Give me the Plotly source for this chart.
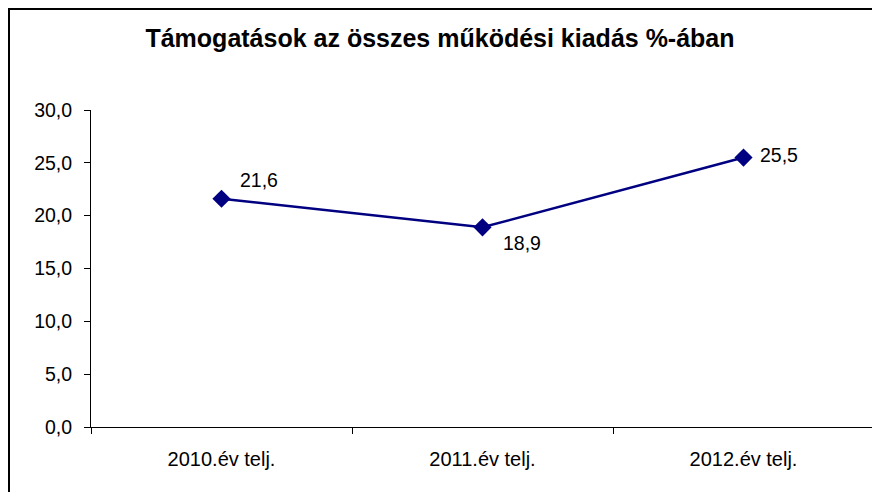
import plotly.graph_objects as go

categories = ["2010.év telj.", "2011.év telj.", "2012.év telj."]
values = [21.6, 18.9, 25.5]
title = "Támogatások az összes működési kiadás %-ában"
y_ticks = [0, 5, 10, 15, 20, 25, 30]

label_shifts = [(16, 19), (18, -16), (14, 3)]

W, H = 872, 484
L, R, T, B = 83, 6, 102, 65
PW, PH = W - L - R, H - T - B

fig = go.Figure()
fig.add_trace(go.Scatter(
    x=categories, y=values, mode="lines+markers",
    line=dict(color="#000080", width=2.5),
    marker=dict(symbol="diamond", size=14, color="#000080"),
    showlegend=False, cliponaxis=False,
))

for c, v, (dx, dy) in zip(categories, values, label_shifts):
    fig.add_annotation(x=c, y=v, text=f"{v:.1f}".replace(".", ","),
                       showarrow=False, xanchor="left", yanchor="middle",
                       xshift=dx, yshift=dy,
                       font=dict(family="Liberation Sans, Arial", size=19.5, color="#000"))

fig.add_shape(type="rect", xref="paper", yref="paper",
              x0=(1 - L) / PW, x1=1.5, y0=-1, y1=1 + (T - 1) / PH,
              line=dict(color="#000", width=2), fillcolor="rgba(0,0,0,0)", layer="below")

fig.update_layout(
    width=W, height=H,
    margin=dict(l=L, r=R, t=T, b=B),
    paper_bgcolor="white", plot_bgcolor="white",
    separators=", ",
    font=dict(family="Liberation Sans, Arial", size=19.5, color="#000"),
    title=dict(text="<b>" + title + "</b>", x=432 / W, xanchor="center",
               y=1 - 30 / H, yanchor="middle",
               font=dict(family="Liberation Sans, Arial", size=25, color="#000")),
    xaxis=dict(type="category", range=[-0.5, 2.5], tickson="boundaries",
               ticks="outside", ticklen=6, tickcolor="#000",
               showline=True, linecolor="#000", linewidth=1,
               showgrid=False, ticklabelstandoff=14,
               tickfont=dict(size=20)),
    yaxis=dict(range=[0, 30], tickvals=y_ticks, tickformat=".1f",
               ticks="outside", ticklen=6, tickcolor="#000",
               showline=True, linecolor="#000", linewidth=1,
               showgrid=False, zeroline=False, ticklabelstandoff=8,
               tickfont=dict(size=19.5)),
)

fig.write_html("out.html")
